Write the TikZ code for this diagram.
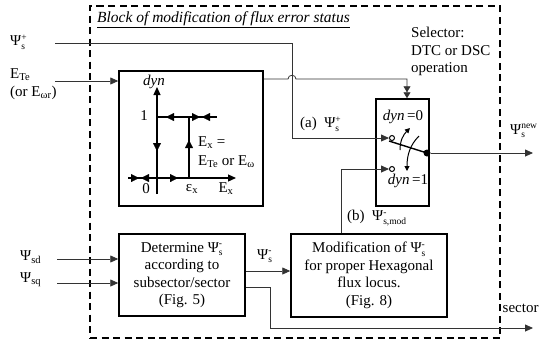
\documentclass[tikz,border=0pt]{standalone}
\usepackage{fontspec}
\setmainfont{Liberation Serif}
\usetikzlibrary{arrows.meta}
\newcommand{\scr}[1]{\mbox{\fontsize{9.5}{9.5}\selectfont #1}}
\newcommand{\subsup}[2]{$\mbox{}_{\scr{#1}}^{\scr{#2}}$}
\begin{document}
\begin{tikzpicture}[x=1pt,y=-1pt,
  every node/.style={font=\fontsize{15}{17.5}\selectfont, inner sep=0pt},
  box/.style={draw, line width=1.5pt, align=center},
  conn/.style={line width=0.8pt, draw=black!80},
  tip/.style={-{Triangle[length=8pt,width=7pt]}},
  dtip/.style={-{Triangle[length=6pt,width=7pt]Triangle[length=6pt,width=7pt]}},
  smalltip/.style={-{Triangle[length=5pt,width=5pt]}},
  hystline/.style={line width=2.3pt},
  axisline/.style={line width=1.2pt},
  tri/.style={-{Triangle[length=8pt,width=8pt]}, line width=0.01pt},
  port/.style={circle, draw, line width=1pt, fill=white, minimum size=5pt},
]
\useasboundingbox (0,0) rectangle (539,346);
% frame
\node[draw, line width=1.6pt, dash pattern=on 7pt off 4.5pt, minimum width=410pt, minimum height=332pt] (frame) at (295,172) {};
\node[anchor=west, font=\fontsize{15.5}{18}\selectfont] (title) at (97,20) {\underline{\textit{Block of modification of flux error status}}};

% boxes
\node[box, minimum width=144pt, minimum height=135pt] (hbox) at (191,138.5) {};
\node[box, minimum width=126pt, minimum height=82pt] (dbox) at (182,275) {Determine Ψ\subsup{s}{-}\\according to\\subsector/sector\\(Fig. 5)};
\node[box, minimum width=156pt, minimum height=83pt] (mbox) at (369,275.5) {Modification of Ψ\subsup{s}{-}\\for proper Hexagonal\\flux locus.\\(Fig. 8)};
\node[box, minimum width=53pt, minimum height=107pt] (sw) at (402.5,152.5) {};

% outer labels
\node[anchor=west] (lpp) at (10,42) {Ψ\subsup{s}{+}};
\node[anchor=west] (lete) at (10,75) {E\textsubscript{Te}};
\node[anchor=west] (lor) at (10,93) {(or E\textsubscript{ωr})};
\node[anchor=west] (lsd) at (20,257) {Ψ\textsubscript{sd}};
\node[anchor=west] (lsq) at (20,280) {Ψ\textsubscript{sq}};
\node[anchor=north west, align=left] (sel) at (411,27) {Selector:\\DTC or DSC\\operation};
\node[anchor=west] (lnew) at (510,131) {Ψ\subsup{s}{new}};
\node[anchor=west] (lsec) at (502.5,308) {sector};
\node[anchor=west] (la) at (300,124) {(a)\ \ Ψ\subsup{s}{+}};
\node[anchor=west] (lb) at (347,218) {(b)\ \ Ψ\subsup{s,mod}{-}};
\node[anchor=west] (lm) at (257,256) {Ψ\subsup{s}{-}};

% hysteresis content
\node (ldyn) at (154,82) {\textit{dyn}};
\node (l1) at (144,116) {1};
\node (l0) at (146,189) {0};
\node (leps) at (192,189) {ε\textsubscript{x}};
\node (lex) at (226,189) {E\textsubscript{x}};
\node[anchor=west] (lexe) at (198,143) {E\textsubscript{x} =};
\node[anchor=west] (lexo) at (198,162) {E\textsubscript{Te} or E\textsubscript{ω}};
\draw[axisline,-{Triangle[length=8pt,width=7pt]}] (157,194) -- (157,87);
\draw[axisline,-{Triangle[length=8pt,width=7pt]}] (128,178) -- (236,178);
\draw[hystline] (128,178) -- (189,178) -- (189,117);
\draw[hystline] (157,178) -- (157,117) -- (217,117);
\draw[tri] (130,178) -- (139,178);
\draw[tri] (150,178) -- (141,178);
\draw[tri] (169,178) -- (178,178);
\draw[tri] (157,142) -- (157,151);
\draw[tri] (189,149) -- (189,140);
\draw[tri] (175,117) -- (166,117);
\draw[tri] (191,117) -- (200,117);
\draw[tri] (211,117) -- (202,117);

% switch content
\node (ld0) at (403,117) {\textit{dyn}\,=0};
\node (ld1) at (408,181) {\textit{dyn}\,=1};
\node[port] (c1) at (392,138) {};
\node[port] (c2) at (392,169) {};
\node[circle, fill=black, minimum size=7pt] (piv) at (427,153) {};
\draw[line width=1.4pt] (389,141) -- (piv.center);
\draw[line width=1pt, smalltip] (400,150) .. controls (400,141) and (403,135) .. (410,128);
\draw[line width=1pt, smalltip] (419,136) .. controls (410,145) and (407,155) .. (407,171);

% connectors
\coordinate (a0) at (55,43);
\coordinate (e0) at (55,81);
\coordinate (sd0) at (57,259);
\coordinate (sq0) at (57,283);
\coordinate (outend) at (533,153);
\coordinate (secend) at (533,328);
\draw[conn,tip] (a0) -- (292,43) -- (292,138) -- (c1.west);
\draw[conn,tip] (e0) -- (hbox.west |- e0);
\draw[conn,dtip] (hbox.east |- 0,79) -- (288,79) .. controls (288,74) and (296,74) .. (296,79) -- (407,79) -- (sw.north -| 407,0);
\draw[conn,tip] (sd0) -- (dbox.west |- sd0);
\draw[conn,tip] (sq0) -- (dbox.west |- sq0);
\draw[conn,tip] (dbox.east |- 0,271) -- (mbox.west |- 0,271);
\draw[conn,tip] (dbox.east |- 0,287) -- (270,287) -- (270,328) -- (secend);
\draw[conn,tip] (mbox.north -| 341,0) -- (341,169) -- (c2.west);
\draw[conn,tip] (piv) -- (outend);
\end{tikzpicture}
\end{document}
